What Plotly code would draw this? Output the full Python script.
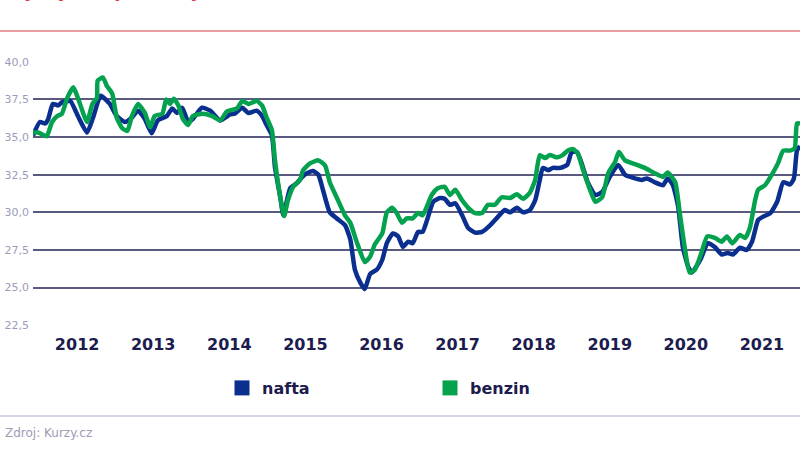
import plotly.graph_objects as go

# ---- data (Kč/l), x in decimal years ----
nafta_x = [2011.42, 2011.51, 2011.58, 2011.62, 2011.68, 2011.75, 2011.80, 2011.91, 2012.01, 2012.13,
           2012.21, 2012.31, 2012.43, 2012.52, 2012.63, 2012.72, 2012.80, 2012.89, 2012.98, 2013.06,
           2013.18, 2013.25, 2013.31, 2013.38, 2013.46, 2013.52, 2013.64, 2013.75, 2013.88, 2014.01,
           2014.07, 2014.17, 2014.25, 2014.36, 2014.43, 2014.49, 2014.56, 2014.60, 2014.67, 2014.71,
           2014.80, 2014.89, 2014.95, 2015.02, 2015.10, 2015.17, 2015.23, 2015.32, 2015.41, 2015.52,
           2015.59, 2015.65, 2015.72, 2015.78, 2015.85, 2015.94, 2016.01, 2016.07, 2016.15, 2016.22,
           2016.28, 2016.35, 2016.41, 2016.48, 2016.54, 2016.60, 2016.68, 2016.77, 2016.83, 2016.90,
           2016.97, 2017.06, 2017.14, 2017.23, 2017.32, 2017.43, 2017.53, 2017.62, 2017.69, 2017.78,
           2017.86, 2017.95, 2018.02, 2018.08, 2018.12, 2018.19, 2018.25, 2018.35, 2018.44, 2018.50,
           2018.57, 2018.63, 2018.71, 2018.81, 2018.90, 2019.00, 2019.11, 2019.20, 2019.30, 2019.42,
           2019.49, 2019.59, 2019.70, 2019.76, 2019.83, 2019.90, 2019.96, 2020.03, 2020.08, 2020.19,
           2020.29, 2020.38, 2020.47, 2020.55, 2020.62, 2020.71, 2020.80, 2020.87, 2020.95, 2021.01,
           2021.11, 2021.20, 2021.28, 2021.37, 2021.42, 2021.46, 2021.50]
nafta_y = [35.1, 36.0, 35.9, 36.2, 37.2, 37.1, 37.3, 37.4, 36.4, 35.3,
           36.3, 37.75, 37.2, 36.4, 36.0, 36.3, 36.75, 36.2, 35.25, 36.1,
           36.4, 36.9, 36.6, 36.95, 36.0, 36.2, 36.95, 36.75, 36.1, 36.5,
           36.55, 36.95, 36.6, 36.75, 36.4, 35.8, 35.1, 33.0, 31.0, 29.8,
           31.6, 31.95, 32.3, 32.6, 32.75, 32.5, 31.5, 30.0, 29.6, 29.15,
           28.2, 26.2, 25.35, 24.9, 25.9, 26.2, 26.85, 27.95, 28.6, 28.4,
           27.7, 28.05, 27.95, 28.7, 28.7, 29.5, 30.7, 30.95, 30.9, 30.5,
           30.6, 29.8, 28.95, 28.65, 28.7, 29.15, 29.7, 30.15, 30.0, 30.3,
           30.0, 30.15, 30.8, 32.15, 32.95, 32.8, 32.95, 32.95, 33.15, 34.0,
           34.0, 33.25, 32.0, 31.15, 31.35, 32.35, 33.15, 32.5, 32.3, 32.15,
           32.25, 32.0, 31.8, 32.25, 31.8, 30.35, 27.7, 26.4, 26.0, 26.85,
           27.95, 27.7, 27.2, 27.3, 27.2, 27.65, 27.5, 28.05, 29.5, 29.7,
           29.95, 30.7, 32.0, 31.85, 32.25, 34.1, 34.4]

benzin_x = [2011.42, 2011.49, 2011.60, 2011.67, 2011.74, 2011.80, 2011.87, 2011.95, 2012.01, 2012.13,
            2012.20, 2012.26, 2012.27, 2012.34, 2012.39, 2012.46, 2012.52, 2012.59, 2012.66, 2012.72,
            2012.80, 2012.89, 2012.96, 2013.02, 2013.12, 2013.17, 2013.22, 2013.27, 2013.33, 2013.39,
            2013.46, 2013.52, 2013.65, 2013.77, 2013.88, 2013.97, 2014.10, 2014.17, 2014.25, 2014.36,
            2014.43, 2014.49, 2014.56, 2014.60, 2014.67, 2014.72, 2014.77, 2014.84, 2014.93, 2014.97,
            2015.06, 2015.17, 2015.26, 2015.32, 2015.41, 2015.52, 2015.59, 2015.68, 2015.78, 2015.85,
            2015.91, 2016.01, 2016.07, 2016.14, 2016.20, 2016.27, 2016.33, 2016.41, 2016.48, 2016.54,
            2016.66, 2016.74, 2016.83, 2016.90, 2016.97, 2017.06, 2017.14, 2017.23, 2017.32, 2017.40,
            2017.49, 2017.58, 2017.69, 2017.78, 2017.86, 2017.95, 2018.02, 2018.08, 2018.15, 2018.21,
            2018.31, 2018.38, 2018.45, 2018.52, 2018.58, 2018.65, 2018.74, 2018.81, 2018.90, 2018.98,
            2019.07, 2019.12, 2019.20, 2019.30, 2019.36, 2019.46, 2019.59, 2019.70, 2019.76, 2019.86,
            2019.92, 2019.99, 2020.05, 2020.12, 2020.21, 2020.28, 2020.38, 2020.47, 2020.54, 2020.61,
            2020.71, 2020.78, 2020.84, 2020.91, 2020.95, 2021.04, 2021.13, 2021.21, 2021.28, 2021.37,
            2021.43, 2021.46, 2021.50]
benzin_y = [35.3, 35.3, 35.05, 36.0, 36.4, 36.55, 37.6, 38.3, 37.6, 36.0,
            37.2, 37.6, 38.75, 38.95, 38.4, 37.9, 36.3, 35.6, 35.4, 36.4,
            37.2, 36.6, 35.65, 36.4, 36.55, 37.5, 37.2, 37.55, 37.1, 36.2,
            35.8, 36.4, 36.55, 36.4, 36.1, 36.7, 36.9, 37.4, 37.2, 37.4,
            37.1, 36.3, 35.45, 33.45, 31.0, 29.75, 30.8, 31.7, 32.15, 32.8,
            33.25, 33.45, 33.1, 32.0, 31.0, 29.8, 29.3, 27.95, 26.7, 27.05,
            27.85, 28.6, 30.0, 30.3, 29.95, 29.3, 29.6, 29.6, 29.95, 29.8,
            31.15, 31.6, 31.7, 31.15, 31.5, 30.8, 30.3, 29.95, 29.95, 30.5,
            30.5, 31.0, 30.95, 31.2, 30.9, 31.3, 32.15, 33.8, 33.6, 33.8,
            33.65, 33.8, 34.1, 34.2, 33.9, 32.8, 31.5, 30.7, 31.0, 32.6,
            33.35, 34.0, 33.45, 33.25, 33.15, 32.95, 32.6, 32.35, 32.65, 32.0,
            29.95, 27.5, 26.0, 26.2, 27.4, 28.4, 28.3, 28.05, 28.4, 27.95,
            28.5, 28.3, 28.95, 30.8, 31.5, 31.8, 32.5, 33.25, 34.1, 34.1,
            34.25, 35.9, 35.9]

year_ticks = [2012, 2013, 2014, 2015, 2016, 2017, 2018, 2019, 2020, 2021]
year_labels = [str(y) for y in year_ticks]
y_ticks = [22.5, 25.0, 27.5, 30.0, 32.5, 35.0, 37.5, 40.0]

series_names = ["nafta", "benzin"]
series_colors = ["#0b2f8f", "#04a24f"]

W, H = 800, 449
L, R, T, B = 33, 0, 61, 123
pw, ph = W - L - R, H - T - B

def px_x(p):
    return (p - L) / pw

def px_y(p):
    return (H - B - p) / ph

fig = go.Figure()
for name, xs, ys, col in [(series_names[0], nafta_x, nafta_y, series_colors[0]),
                          (series_names[1], benzin_x, benzin_y, series_colors[1])]:
    fig.add_trace(go.Scatter(x=xs, y=ys, mode="lines", name=name,
                             line=dict(color=col, width=4.5, shape="spline", smoothing=0.5),
                             showlegend=False, hoverinfo="skip"))
for name, col in zip(series_names, series_colors):
    fig.add_trace(go.Scatter(x=[None], y=[None], mode="markers", name=name,
                             marker=dict(symbol="square", size=15, color=col)))

fig.update_layout(
    width=W, height=H,
    margin=dict(l=L, r=R, t=T, b=B),
    paper_bgcolor="white", plot_bgcolor="white",
    separators=",.",
    font=dict(family="DejaVu Sans", color="#1c1c4e"),
    xaxis=dict(range=[2011.42, 2021.5], tickvals=year_ticks, ticktext=year_labels,
               showgrid=False, zeroline=False, showline=False, ticks="",
               ticklabelstandoff=7,
               tickfont=dict(family="DejaVu Sans", size=16, color="#1c1c4e", weight="bold")),
    yaxis=dict(range=[22.45, 40.05], tickvals=y_ticks, tickformat=".1f",
               showgrid=True, gridcolor="#5a5a80", gridwidth=1.5, zeroline=False,
               showline=False, ticks="", ticklabelstandoff=3,
               tickfont=dict(family="DejaVu Sans", size=11, color="#9c9cba")),
    legend=dict(orientation="h", x=px_x(222), xanchor="left", y=px_y(388), yanchor="middle",
                entrywidth=163, entrywidthmode="pixels",
                font=dict(family="DejaVu Sans", size=16, color="#1c1c4e", weight="bold"),
                bgcolor="rgba(0,0,0,0)"),
    shapes=[
        dict(type="line", xref="paper", yref="paper", x0=px_x(0), x1=px_x(W), y0=px_y(31), y1=px_y(31),
             line=dict(color="#d83a3f", width=1)),
        dict(type="line", xref="paper", yref="paper", x0=px_x(0), x1=px_x(W), y0=px_y(416), y1=px_y(416),
             line=dict(color="#a9a9d2", width=1)),
    ],
    annotations=[
        dict(text="Zdroj: Kurzy.cz", xref="paper", yref="paper", x=px_x(3), y=px_y(433),
             xanchor="left", yanchor="middle", showarrow=False,
             font=dict(family="DejaVu Sans", size=12, color="#9c9cb4")),
        dict(text="Vývoj cen pohonných hmot", xref="paper", yref="paper",
             x=px_x(8), y=px_y(3), xanchor="left", yanchor="bottom", showarrow=False,
             font=dict(family="DejaVu Sans", size=18, color="#d83a3f", weight="bold")),
    ],
)

fig.write_html("out.html", config={"displayModeBar": False},
               post_script="document.body.style.margin='0';")
